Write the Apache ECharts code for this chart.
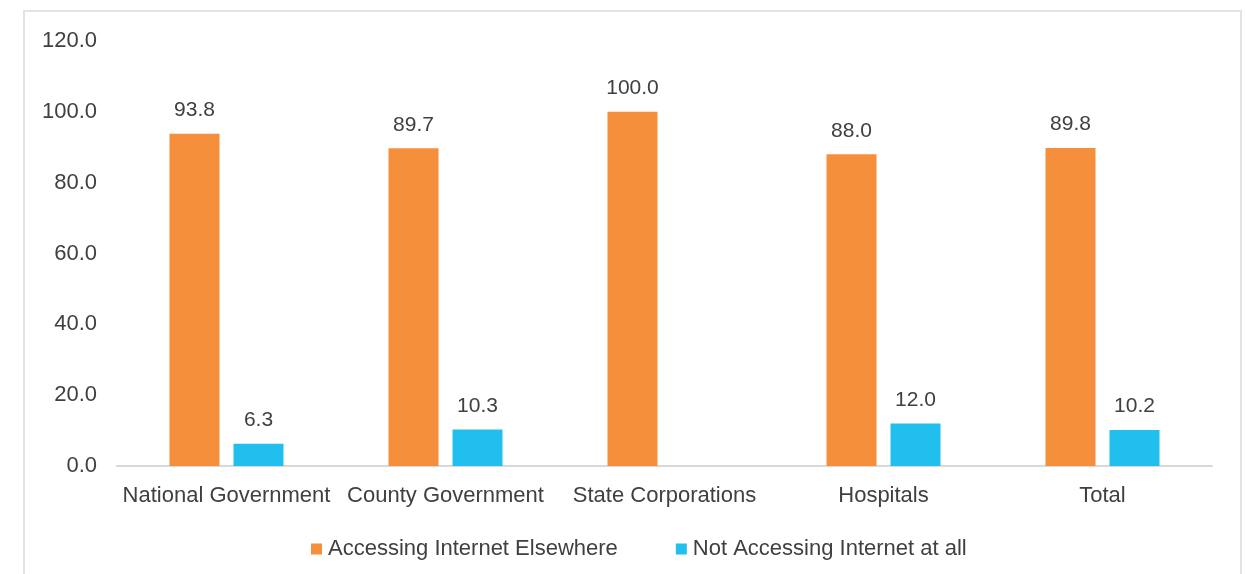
<!DOCTYPE html>
<html>
<head>
<meta charset="utf-8">
<script src="https://cdn.jsdelivr.net/npm/echarts@6/dist/echarts.min.js"></script>
<style>
html,body{margin:0;padding:0;background:#fff;}
#chart{position:absolute;left:0;top:0;width:1245px;height:574px;}
#frame{position:absolute;left:23px;top:10px;width:1215px;height:600px;border:2px solid #e3e3e3;pointer-events:none;}
</style>
</head>
<body>
<div id="chart"></div>
<div id="frame"></div>
<script>
const categories = ['National Government', 'County Government', 'State Corporations', 'Hospitals', 'Total'];
const seriesNames = ['Accessing Internet Elsewhere', 'Not Accessing Internet at all'];
const accessingElsewhere = [93.8, 89.7, 100.0, 88.0, 89.8];
const notAccessing = [6.3, 10.3, null, 12.0, 10.2];
const yTicks = { min: 0, max: 120, interval: 20 };

const textColor = '#404040';
const font = 'Liberation Sans, Arial, sans-serif';
const chart = echarts.init(document.getElementById('chart'));
const labelCfg = {
  show: true, position: 'top', distance: 13,
  color: textColor, fontSize: 21, fontFamily: font,
  formatter: p => (p.value == null ? '' : Number(p.value).toFixed(1))
};
chart.setOption({
  animation: false,
  backgroundColor: 'transparent',
  grid: { left: 117, right: 33, top: 41, bottom: 108, containLabel: false },
  legend: {
    bottom: 9, left: 306,
    itemWidth: 11, itemHeight: 11, itemGap: 58,
    icon: 'rect',
    textStyle: { color: textColor, fontSize: 22, fontFamily: font, padding: [0, 0, 0, 1] },
    data: seriesNames
  },
  xAxis: {
    type: 'category',
    data: categories,
    axisLine: { lineStyle: { color: '#d9d9d9', width: 2 } },
    axisTick: { show: false },
    axisLabel: { color: textColor, fontSize: 22, fontFamily: font, margin: 19, interval: 0 }
  },
  yAxis: {
    type: 'value',
    min: yTicks.min, max: yTicks.max, interval: yTicks.interval,
    splitLine: { show: false },
    axisLine: { show: false },
    axisTick: { show: false },
    axisLabel: { color: textColor, fontSize: 22, fontFamily: font, margin: 20, formatter: v => v.toFixed(1) }
  },
  series: [
    {
      name: seriesNames[0], type: 'bar', data: accessingElsewhere,
      barWidth: 50, barGap: '28%',
      itemStyle: { color: '#F58F3B' },
      label: labelCfg
    },
    {
      name: seriesNames[1], type: 'bar', data: notAccessing,
      barWidth: 50, barGap: '28%',
      itemStyle: { color: '#20BFEE' },
      label: labelCfg
    }
  ]
});
</script>
</body>
</html>
